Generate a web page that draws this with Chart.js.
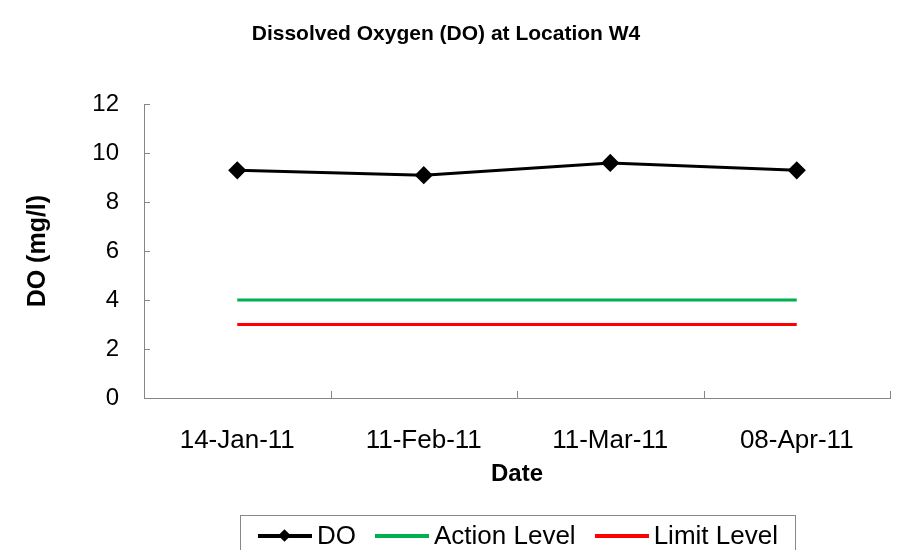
<!DOCTYPE html>
<html lang="en">
<head>
  <meta charset="UTF-8" />
  <title>Dissolved Oxygen (DO) at Location W4</title>
  <script src="https://cdn.jsdelivr.net/npm/chart.js"></script>
  <style>
    html, body { margin: 0; padding: 0; background: #fff; }
    #wrap { position: relative; width: 900px; height: 550px; overflow: hidden; }
    #legend {
      position: absolute; left: 240px; top: 515px; width: 556px; height: 50px;
      border: 1px solid #888; box-sizing: border-box; white-space: nowrap;
      font: 26px "Liberation Sans", Arial, sans-serif; color: #000;
      display: flex; align-items: flex-start; padding-top: 4px; padding-left: 17px;
    }
    .item { display: flex; align-items: center; margin-right: 19px; }
    .swatch { position: relative; width: 54px; height: 4px; margin-right: 5px; flex: none; }
    .diamond { position: absolute; left: 22px; top: -3px; width: 9px; height: 9px; background: #000; transform: rotate(45deg); }
  </style>
</head>
<body>
<div id="wrap">
  <canvas id="chart" width="900" height="550"></canvas>
  <div id="legend"></div>
</div>
<script>
  const dates = ['14-Jan-11', '11-Feb-11', '11-Mar-11', '08-Apr-11'];
  const doValues = [9.3, 9.1, 9.6, 9.3];
  const actionLevel = [4, 4, 4, 4];
  const limitLevel = [3, 3, 3, 3];
  const seriesNames = ['DO', 'Action Level', 'Limit Level'];
  const seriesColors = ['#000000', '#00B050', '#FF0000'];

  const font = '"Liberation Sans", Arial, sans-serif';
  const axisColor = '#868686';

  // inward tick marks, Excel style
  const innerTicks = {
    id: 'innerTicks',
    afterDraw(chart) {
      const c = chart.ctx;
      const x = chart.scales.x, y = chart.scales.y;
      const area = chart.chartArea;
      c.save();
      c.strokeStyle = axisColor;
      c.lineWidth = 1;
      c.beginPath();
      y.ticks.forEach((t, i) => {
        const py = Math.round(y.getPixelForTick(i)) + 0.5;
        c.moveTo(area.left, py); c.lineTo(area.left + 6, py);
      });
      const half = (x.getPixelForValue(1) - x.getPixelForValue(0)) / 2;
      for (let i = 0; i <= dates.length; i++) {
        const px = Math.round(x.getPixelForValue(i) - half) + 0.5;
        c.moveTo(px, area.bottom); c.lineTo(px, area.bottom - 7);
      }
      c.stroke();
      c.restore();
    }
  };

  new Chart(document.getElementById('chart'), {
    type: 'line',
    data: {
      labels: dates,
      datasets: [
        { label: seriesNames[0], data: doValues, borderColor: seriesColors[0], backgroundColor: seriesColors[0],
          borderWidth: 3, pointStyle: 'rectRot', pointRadius: 7, pointHoverRadius: 7, tension: 0 },
        { label: seriesNames[1], data: actionLevel, borderColor: seriesColors[1], borderWidth: 3, pointRadius: 0 },
        { label: seriesNames[2], data: limitLevel, borderColor: seriesColors[2], borderWidth: 3, pointRadius: 0 }
      ]
    },
    options: {
      responsive: false,
      animation: false,
      layout: { padding: { left: 0, right: 8, top: 0, bottom: 61 } },
      plugins: {
        legend: { display: false },
        tooltip: { enabled: false },
        title: {
          display: true,
          text: 'Dissolved Oxygen (DO) at Location W4',
          color: '#000',
          font: { family: font, size: 21, weight: 'bold' },
          padding: { top: 22, bottom: 57 }
        }
      },
      scales: {
        x: {
          offset: true,
          grid: { display: true, drawOnChartArea: false, drawTicks: false, offset: true, color: 'rgba(0,0,0,0)' },
          border: { color: axisColor, width: 1 },
          ticks: { color: '#000', font: { family: font, size: 26 }, padding: 27, maxRotation: 0 },
          title: { display: true, text: 'Date', color: '#000', font: { family: font, size: 24, weight: 'bold' }, padding: 0 },
          afterFit(scale) { scale.height = 91; }
        },
        y: {
          min: 0, max: 12,
          grid: { drawOnChartArea: false, drawTicks: false, color: 'rgba(0,0,0,0)' },
          border: { color: axisColor, width: 1 },
          ticks: { stepSize: 2, color: '#000', font: { family: font, size: 24 }, padding: 25 },
          title: { display: true, text: 'DO (mg/l)', color: '#000', font: { family: font, size: 25, weight: 'bold' }, padding: { top: 23, bottom: 0 } },
          afterFit(scale) { scale.width = 144; }
        }
      }
    },
    plugins: [innerTicks]
  });

  // legend as html, built from the series names/colours
  const legend = document.getElementById('legend');
  seriesNames.forEach((name, i) => {
    const item = document.createElement('div');
    item.className = 'item';
    const sw = document.createElement('div');
    sw.className = 'swatch';
    sw.style.background = seriesColors[i];
    if (i === 0) {
      const d = document.createElement('div');
      d.className = 'diamond';
      sw.appendChild(d);
    }
    const label = document.createElement('span');
    label.textContent = name;
    item.appendChild(sw);
    item.appendChild(label);
    legend.appendChild(item);
  });
</script>
</body>
</html>
